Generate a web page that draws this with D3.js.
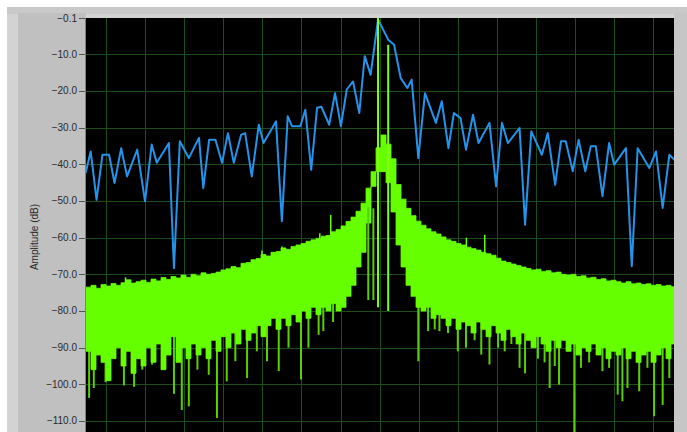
<!DOCTYPE html>
<html>
<head>
<meta charset="utf-8">
<script src="https://cdn.jsdelivr.net/npm/d3@7"></script>
<style>
    body { margin: 0; background: #ffffff; }
    svg { display: block; }
</style>
</head>
<body>
<svg id="viz_spectrum"></svg>
<script>
// amplitude axis ticks (dB)
var y_ticks = [-0.1, -10, -20, -30, -40, -50, -60, -70, -80, -90, -100, -110];
// frequency grid (one line per unit)
var freq_ticks = d3.range(0, 15);

// windowed spectrum (blue trace)
var blue_freq = [-0.52, -0.39, -0.24, -0.09, 0.08, 0.22, 0.39, 0.54, 0.80, 1.00, 1.17, 1.30, 1.61, 1.74, 1.89,
    2.12, 2.38, 2.49, 2.64, 2.80, 2.97, 3.12, 3.27, 3.46, 3.56, 3.73, 3.91, 4.03, 4.35, 4.50, 4.65, 4.76,
    4.97, 5.10, 5.25, 5.40, 5.51, 5.71, 5.86, 6.01, 6.16, 6.32, 6.48, 6.62, 6.77, 6.96, 7.22, 7.37, 7.54,
    7.71, 7.82, 7.99, 8.16, 8.44, 8.59, 8.76, 8.90, 9.07, 9.21, 9.39, 9.53, 9.81, 9.98, 10.13, 10.28,
    10.58, 10.72, 10.88, 11.15, 11.30, 11.49, 11.64, 11.76, 11.94, 12.09, 12.26, 12.40, 12.53, 12.70,
    12.87, 13.00, 13.30, 13.45, 13.60, 13.90, 14.07, 14.24, 14.41, 14.58];
var blue_db = [-42.4, -36.5, -49.7, -37.4, -37.4, -45.1, -35.6, -43.3, -36.0, -50.1, -34.6, -39.6, -34.2, -68.3, -33.7,
    -38.3, -32.8, -46.5, -33.3, -33.3, -39.6, -31.5, -39.6, -31.9, -31.5, -43.3, -29.2, -34.2, -28.3, -55.5, -26.9, -29.6,
    -29.6, -25.1, -41.5, -24.6, -24.3, -29.2, -20.6, -29.6, -19.6, -17.4, -26.0, -10.5, -15.6, -0.5, -6.0, -7.4, -16.5,
    -19.2, -16.9, -38.3, -20.6, -28.7, -22.8, -35.6, -26.0, -27.4, -36.0, -26.5, -34.2, -28.7, -46.0, -28.7, -34.2,
    -30.1, -56.5, -31.0, -37.4, -31.5, -45.6, -33.7, -33.7, -41.9, -33.3, -41.9, -35.1, -35.1, -48.7,
    -34.2, -40.1, -35.6, -67.8, -35.6, -41.0, -36.5, -51.9, -37.4, -39.2];

// rectangular-window spectrum (green trace), read as column envelopes
var green_start = -0.51;
var green_step = 0.1279;
var green_top = [-73.5, -73.0, -73.8, -72.8, -73.2, -72.5, -73.0, -72.3, -71.5, -72.4, -72.0, -71.6, -72.2, -71.3,
    -71.8, -70.9, -71.4, -70.6, -71.0, -70.2, -70.8, -70.0, -70.4, -69.6, -70.0, -69.8, -69.4, -68.8, -68.5, -67.9,
    -68.2, -67.0, -66.8, -66.0, -65.7, -64.6, -65.0, -64.0, -63.8, -62.8, -63.2, -62.4, -62.0, -61.6, -61.0, -60.6,
    -60.2, -59.6, -59.4, -58.4, -57.8, -56.8, -55.6, -54.4, -52.8, -50.6, -46.5, -42.0, -35.5, -32.0, -34.5, -38.5,
    -45.5, -49.5, -52.0, -54.0, -55.5, -56.6, -57.6, -58.4, -59.0, -59.8, -60.6, -61.0, -61.6, -62.0, -62.6, -63.0,
    -63.4, -64.0, -64.4, -64.8, -65.6, -66.4, -66.8, -67.2, -67.6, -68.0, -68.4, -68.8, -68.6, -69.2, -69.0, -69.6,
    -69.4, -70.0, -70.2, -70.0, -70.6, -70.4, -71.0, -70.8, -71.4, -71.2, -71.8, -71.6, -72.0, -72.4, -72.0, -72.6,
    -72.4, -72.8, -72.6, -73.0, -72.8, -73.2, -73.0, -73.4];
var green_low = [-91, -96, -92, -94, -99, -93, -90, -95, -91, -97, -93, -95, -90, -94, -89, -96, -92, -87, -94, -90,
    -93, -89, -92, -90, -93, -88, -91, -87, -90, -86, -89, -85, -88, -86, -84, -87, -84, -82, -85, -82, -84, -81,
    -83, -80, -82, -79, -81, -79, -80, -78, -80, -79, -76, -73, -68, -64, -56, -46, -42, -42, -45, -53, -62, -68,
    -73, -76, -79, -80, -79, -82, -81, -82, -84, -82, -85, -83, -84, -86, -83, -85, -87, -84, -86, -88, -85, -87,
    -89, -86, -88, -90, -87, -89, -91, -88, -90, -88, -91, -89, -92, -90, -91, -89, -92, -90, -93, -91, -92, -90,
    -93, -91, -94, -92, -91, -94, -92, -90, -93, -89];

// deep drops below the green band
var spike_freq = [-0.43, -0.31, -0.01, 0.46, 0.72, 0.93, 1.18, 1.44, 1.74, 1.94, 2.12, 2.34, 2.63, 2.84, 3.09, 3.31,
    3.61, 3.86, 4.12, 4.42, 4.67, 4.99, 5.18, 5.44, 5.56, 5.81, 7.99, 8.24, 8.41, 8.53, 8.75, 9.00, 9.21, 9.43, 9.60,
    9.81, 10.03, 10.20, 10.37, 10.58, 10.72, 11.05, 11.22, 11.35, 11.48, 11.59, 11.98, 12.15, 12.36, 12.70, 12.87,
    13.09, 13.21, 13.34, 13.64, 13.85, 14.02, 14.24, 14.41];
var spike_db = [-103.7, -101, -99.4, -100.3, -100.7, -96, -94.6, -96, -102.6, -107, -106, -96, -97.4, -109.2, -99.2,
    -93.7, -98.3, -91, -93.7, -96.4, -90, -98.7, -90, -86.5, -85.5, -83, -93.7, -85.5, -85, -85.5, -86, -91, -90, -88,
    -91.9, -94.6, -90, -91, -89, -95.5, -97, -93, -94, -101, -95, -100.1, -113, -95.5, -94, -96.4, -95.5, -102.8,
    -104.6, -101, -101.9, -95.5, -108.7, -105.6, -98.3];

// short peaks above the green band
var peak_freq = [0.50, 3.99, 4.50, 5.47, 5.75, 9.22, 9.69];
var peak_db = [-70.8, -63.5, -62.4, -58.8, -53.8, -60.0, -59.2];

// tones near the centre
var tone_freq = [6.71, 6.84, 6.96, 7.22];
var tone_hi = [-51.6, -52.0, -0.1, -7.4];
var tone_lo = [-77, -77, -79, -80];

var width = 687,
    height = 432,
    plot = { left: 86, right: 674, top: 18, bottom: 432 };

var svg = d3.select("svg#viz_spectrum")
    .attr("width", width)
    .attr("height", height);

// frame
svg.append("rect")
    .attr("x", 7).attr("y", 7)
    .attr("width", width - 7).attr("height", height - 7)
    .style("fill", "#d3d3d3");
svg.append("rect")
    .attr("x", 7).attr("y", 7)
    .attr("width", width - 7).attr("height", 7)
    .style("fill", "#c9c9c9");
svg.append("rect")
    .attr("x", 18).attr("y", 13)
    .attr("width", plot.left - 18).attr("height", height - 13)
    .style("fill", "#c0c0c0");
svg.append("rect")
    .attr("x", plot.right).attr("y", 13)
    .attr("width", width - plot.right).attr("height", height - 13)
    .style("fill", "#c6c6c6");

var x = d3.scaleLinear()
    .domain([-0.51, 14.53])
    .range([plot.left, plot.right]);

var y = d3.scaleLinear()
    .domain([-0.1, -113])
    .range([plot.top, plot.bottom]);

svg.append("clipPath")
    .attr("id", "plot_clip")
    .append("rect")
        .attr("x", plot.left)
        .attr("y", plot.top)
        .attr("width", plot.right - plot.left)
        .attr("height", plot.bottom - plot.top);

svg.append("rect")
    .attr("x", plot.left)
    .attr("y", plot.top)
    .attr("width", plot.right - plot.left)
    .attr("height", plot.bottom - plot.top)
    .style("fill", "#000000");

svg.append("line")
    .attr("x1", plot.left - 0.5).attr("x2", plot.left - 0.5)
    .attr("y1", plot.top).attr("y2", plot.bottom)
    .style("stroke", "#808080");

var plot_g = svg.append("g")
    .attr("clip-path", "url(#plot_clip)");

// grid
plot_g.selectAll("line.hgrid")
    .data(y_ticks.slice(1))
    .enter()
    .append("line")
        .attr("class", "hgrid")
        .attr("x1", plot.left).attr("x2", plot.right)
        .attr("y1", function(d) { return Math.round(y(d)) + 0.5; })
        .attr("y2", function(d) { return Math.round(y(d)) + 0.5; })
        .style("stroke", "#1c4f1c")
        .style("stroke-width", 1);

plot_g.selectAll("line.vgrid")
    .data(freq_ticks)
    .enter()
    .append("line")
        .attr("class", "vgrid")
        .attr("y1", plot.top).attr("y2", plot.bottom)
        .attr("x1", function(d) { return Math.round(x(d)) + 0.5; })
        .attr("x2", function(d) { return Math.round(x(d)) + 0.5; })
        .style("stroke", "#1c4f1c")
        .style("stroke-width", 1);

// blue trace
var line = d3.line()
    .x(function(d) { return x(d[0]); })
    .y(function(d) { return y(d[1]); });

plot_g.append("path")
    .attr("d", line(d3.zip(blue_freq, blue_db)))
    .style("fill", "none")
    .style("stroke", "#2394ea")
    .style("stroke-width", 2)
    .style("stroke-linejoin", "round");

// green trace: drops first, then the dense band on top
plot_g.selectAll("line.spike")
    .data(d3.zip(spike_freq, spike_db))
    .enter()
    .append("line")
        .attr("class", "spike")
        .attr("x1", function(d) { return x(d[0]); })
        .attr("x2", function(d) { return x(d[0]); })
        .attr("y1", y(-78))
        .attr("y2", function(d) { return y(d[1]); })
        .style("stroke", "#58d000")
        .style("stroke-width", 2);

var band = green_top.map(function(t, i) {
    return { f: green_start + i * green_step, top: t, low: green_low[i] };
});
// closing column edge for the step curve
band.push({ f: green_start + band.length * green_step, top: green_top[green_top.length - 1], low: green_low[green_low.length - 1] });

var area = d3.area()
    .curve(d3.curveStepAfter)
    .x(function(d) { return x(d.f); })
    .y0(function(d) { return y(d.low); })
    .y1(function(d) { return y(d.top); });

plot_g.append("path")
    .attr("d", area(band))
    .style("fill", "#66ff00")
    .style("stroke", "#66ff00")
    .style("stroke-width", 0.8);

plot_g.selectAll("line.peak")
    .data(d3.zip(peak_freq, peak_db))
    .enter()
    .append("line")
        .attr("class", "peak")
        .attr("x1", function(d) { return x(d[0]); })
        .attr("x2", function(d) { return x(d[0]); })
        .attr("y1", function(d) { return y(d[1]); })
        .attr("y2", function(d) { return y(d[1] - 8); })
        .style("stroke", "#66ff00")
        .style("stroke-width", 1.5);

plot_g.selectAll("line.tone")
    .data(d3.zip(tone_freq, tone_hi, tone_lo))
    .enter()
    .append("line")
        .attr("class", "tone")
        .attr("x1", function(d) { return x(d[0]); })
        .attr("x2", function(d) { return x(d[0]); })
        .attr("y1", function(d) { return y(d[1]); })
        .attr("y2", function(d) { return y(d[2]); })
        .style("stroke", function(d, i) { return i < 2 ? "#58d000" : "#84ff10"; })
        .style("stroke-width", 2);

// y axis
var axis_g = svg.append("g");

axis_g.selectAll("line.tick")
    .data(y_ticks)
    .enter()
    .append("line")
        .attr("class", "tick")
        .attr("x1", plot.left - 7).attr("x2", plot.left - 1)
        .attr("y1", function(d) { return Math.round(y(d)) + 0.5; })
        .attr("y2", function(d) { return Math.round(y(d)) + 0.5; })
        .style("stroke", "#555555");

axis_g.selectAll("text.tick")
    .data(y_ticks)
    .enter()
    .append("text")
        .attr("class", "tick")
        .attr("x", plot.left - 9)
        .attr("y", function(d) { return y(d); })
        .attr("dy", "0.35em")
        .attr("text-anchor", "end")
        .style("font-family", "'Liberation Sans', Arial, sans-serif")
        .style("font-size", "10px")
        .style("fill", "#2a2a2a")
        .text(d3.format(".1f"));

axis_g.append("text")
    .attr("transform", "translate(" + [38, 237] + ") rotate(-90)")
    .attr("text-anchor", "middle")
    .style("font-family", "'Liberation Sans', Arial, sans-serif")
    .style("font-size", "10px")
    .style("fill", "#2a2a2a")
    .text("Amplitude (dB)");
</script>
</body>
</html>
